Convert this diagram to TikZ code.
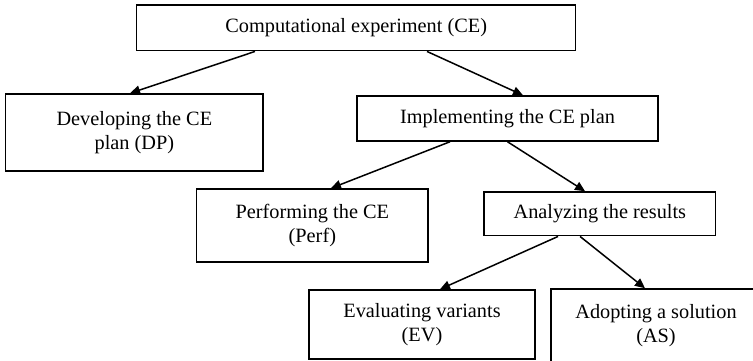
\documentclass[tikz,border=0pt]{standalone}
\usepackage{fontspec}
\setmainfont{Liberation Serif}
\usetikzlibrary{arrows.meta}

\begin{document}
\begin{tikzpicture}[x=1pt,y=-1pt,
  box/.style={draw=black, line width=1.5pt, rectangle, inner sep=0pt,
    align=center, font=\fontsize{20.3}{25.5}\selectfont},
  arr/.style={draw=black, line width=1.5pt,
    -{Triangle[length=10pt,width=9pt]}}]

  % page frame
  \useasboundingbox (0,0) rectangle (753,361);
  \clip (0,0) rectangle (753,361);

  % boxes of the task tree
  \node[box, minimum width=439pt, minimum height=45.7pt] (ce) at (356.2,27.85)
    {Computational experiment (CE)};
  \node[box, minimum width=257.3pt, minimum height=77pt] (dp) at (134.35,132.5)
    {\raisebox{-4pt}{\shortstack[c]{Developing the CE\\[3pt]plan (DP)}}};
  \node[box, minimum width=301pt, minimum height=45pt] (impl) at (507.5,118.5)
    {Implementing the CE plan};
  \node[box, minimum width=231.3pt, minimum height=73pt] (perf) at (312.35,225.5)
    {\raisebox{-2pt}{\shortstack[c]{Performing the CE\\[3pt](Perf)}}};
  \node[box, minimum width=231.7pt, minimum height=43.7pt] (anal) at (599.85,213.85)
    {Analyzing the results};
  \node[box, minimum width=226pt, minimum height=69pt] (ev) at (422,324.5)
    {\raisebox{-3pt}{\shortstack[c]{Evaluating variants\\[3pt](EV)}}};
  \node[box, minimum width=210pt, minimum height=73pt] (as) at (656,325.5)
    {\shortstack[c]{Adopting a solution\\[3pt](AS)}};

  % connectors
  \draw[arr] ([xshift=-101.2pt]ce.south) -- ([xshift=-4.3pt]dp.north);
  \draw[arr] ([xshift=70.8pt]ce.south) -- ([xshift=15.5pt]impl.north);
  \draw[arr] ([xshift=-57.5pt]impl.south) -- ([xshift=18.6pt]perf.north);
  \draw[arr] ([xshift=0pt]impl.south) -- ([xshift=-14.8pt]anal.north);
  \draw[arr] ([xshift=-41.8pt]anal.south) -- ([xshift=18pt]ev.north);
  \draw[arr] ([xshift=-19.8pt]anal.south) -- ([xshift=-11pt]as.north);
\end{tikzpicture}
\end{document}
